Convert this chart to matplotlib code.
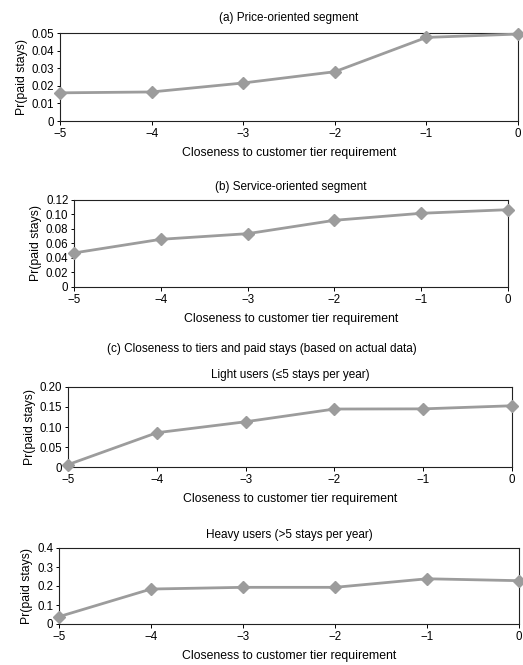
import matplotlib
matplotlib.use("Agg")
import matplotlib.pyplot as plt

plt.rcParams['font.family'] = ['Liberation Sans', 'DejaVu Sans']

x = [-5, -4, -3, -2, -1, 0]
xticklabels = ['\u22125', '\u22124', '\u22123', '\u22122', '\u22121', '0']

price = [0.016, 0.0165, 0.0216, 0.028, 0.0475, 0.0494]
service = [0.0467, 0.0656, 0.0734, 0.0919, 0.1016, 0.1066]
light = [0.0066, 0.0858, 0.113, 0.1446, 0.1450, 0.1527]
heavy = [0.0386, 0.184, 0.193, 0.193, 0.238, 0.228]

price_yticks = [0, 0.01, 0.02, 0.03, 0.04, 0.05]
price_ylabels = ['0', '0.01', '0.02', '0.03', '0.04', '0.05']
service_yticks = [0, 0.02, 0.04, 0.06, 0.08, 0.10, 0.12]
service_ylabels = ['0', '0.02', '0.04', '0.06', '0.08', '0.10', '0.12']
light_yticks = [0, 0.05, 0.10, 0.15, 0.20]
light_ylabels = ['0', '0.05', '0.10', '0.15', '0.20']
heavy_yticks = [0, 0.1, 0.2, 0.3, 0.4]
heavy_ylabels = ['0', '0.1', '0.2', '0.3', '0.4']

W, H = 523, 665
fig = plt.figure(figsize=(W / 100, H / 100), dpi=100)

def mkax(left, right, top, bottom):
    return fig.add_axes([left / W, 1 - bottom / H, (right - left) / W, (bottom - top) / H])

panels = [
    (mkax(60, 518, 33, 121), price, price_yticks, price_ylabels, '(a) Price-oriented segment', 9),
    (mkax(74, 508, 200, 286.7), service, service_yticks, service_ylabels, '(b) Service-oriented segment', 7.5),
    (mkax(68, 512, 386.7, 467.3), light, light_yticks, light_ylabels, 'Light users (\u22645 stays per year)', 6.5),
    (mkax(59, 519, 548, 624), heavy, heavy_yticks, heavy_ylabels, 'Heavy users (>5 stays per year)', 7.5),
]

fs = 8.3
line_color = '#9c9c9c'
for ax, vals, yt, yl, title, tpad in panels:
    ax.plot(x, vals, color=line_color, lw=2, marker='D', markersize=6,
            markerfacecolor=line_color, markeredgecolor=line_color, clip_on=False, zorder=3)
    ax.set_xlim(-5, 0)
    ax.set_ylim(yt[0], yt[-1])
    ax.set_xticks(x)
    ax.set_xticklabels(xticklabels, fontsize=fs)
    ax.set_yticks(yt)
    ax.set_yticklabels(yl, fontsize=fs)
    ax.tick_params(axis='both', direction='out', length=3, width=0.7, pad=2)
    ax.tick_params(axis='y', length=2)
    for s in ax.spines.values():
        s.set_linewidth(0.8)
        s.set_color('#222222')
    ax.set_title(title, fontsize=8.5, pad=tpad)
    ax.set_ylabel('Pr(paid stays)', fontsize=8.8, labelpad=3)
    ax.set_xlabel('Closeness to customer tier requirement', fontsize=8.8, labelpad=5)

fig.text(0.5, 1 - 349 / H, '(c) Closeness to tiers and paid stays (based on actual data)',
         ha='center', va='center', fontsize=8.5)

fig.savefig('out.png', dpi=100)
